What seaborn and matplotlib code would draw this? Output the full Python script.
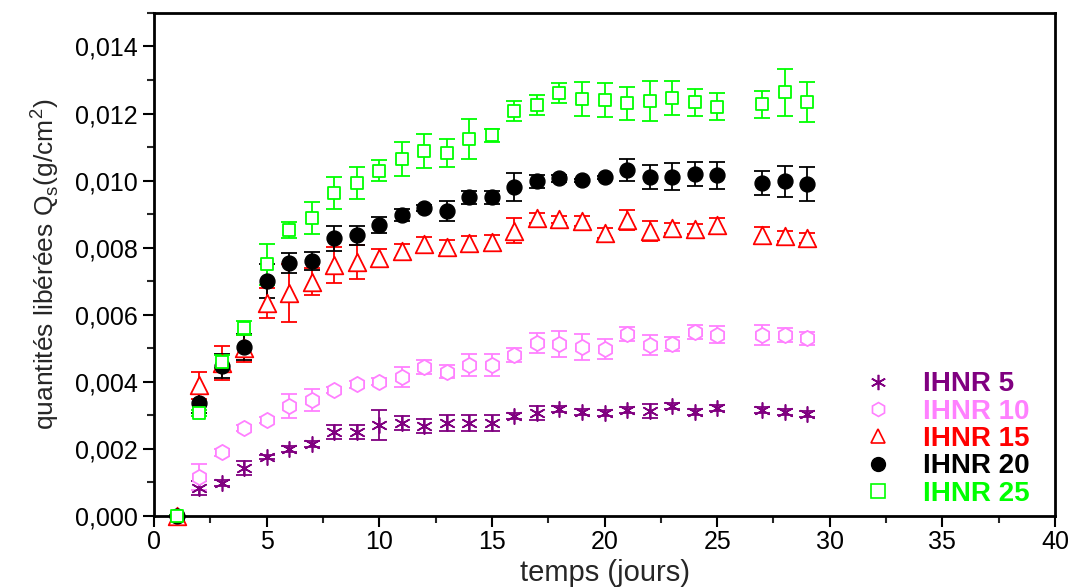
import numpy as np
import pandas as pd
import matplotlib
matplotlib.use("Agg")
import matplotlib.pyplot as plt
from matplotlib.lines import Line2D
from matplotlib.ticker import MultipleLocator, FuncFormatter
import seaborn as sns

days = [1, 2, 3, 4, 5, 6, 7, 8, 9, 10, 11, 12, 13, 14, 15, 16, 17, 18, 19, 20,
        21, 22, 23, 24, 25, 27, 28, 29]

ihnr5 = [0.0, 0.00083, 0.00098, 0.00143, 0.00176, 0.0020, 0.00215, 0.00251, 0.00251, 0.00271,
         0.00277, 0.00268, 0.00277, 0.00277, 0.00277, 0.00298, 0.00307, 0.00319, 0.0031, 0.00307,
         0.00316, 0.00313, 0.00328, 0.0031, 0.00322, 0.00316, 0.0031, 0.00304]
ihnr5_err = [0.00003, 0.0002, 0.0001, 0.0002, 0.00005, 0.0001, 0.0001, 0.0002, 0.0002, 0.00045,
             0.0002, 0.0002, 0.00025, 0.00025, 0.00025, 0.0001, 0.0002, 0.0001, 0.0001, 0.0001,
             0.0001, 0.0002, 0.0001, 0.0001, 0.0001, 0.0001, 0.0001, 0.0001]

ihnr10 = [0.0, 0.00116, 0.0019, 0.00262, 0.00286, 0.00328, 0.00346, 0.00376, 0.00393, 0.0040,
          0.00414, 0.00444, 0.0043, 0.0045, 0.0045, 0.0048, 0.00516, 0.00512, 0.00504, 0.00497,
          0.00542, 0.0051, 0.00513, 0.00548, 0.0054, 0.0054, 0.0054, 0.0053]
ihnr10_err = [0.00003, 0.0004, 0.0001, 0.0001, 0.0001, 0.00037, 0.00032, 0.0001, 0.0001, 0.0001,
              0.0003, 0.0002, 0.0002, 0.00033, 0.00033, 0.00022, 0.0003, 0.00039, 0.00039, 0.0003,
              0.0002, 0.0003, 0.0002, 0.0002, 0.00025, 0.0003, 0.0002, 0.0002]

ihnr15 = [0.0, 0.0039, 0.00456, 0.0050, 0.00635, 0.00665, 0.00698, 0.00748, 0.00757, 0.00769,
          0.0079, 0.0081, 0.00803, 0.00813, 0.00817, 0.0085, 0.00888, 0.00885, 0.00879, 0.00843,
          0.00882, 0.0085, 0.00858, 0.00855, 0.00867, 0.00837, 0.00834, 0.00828]
ihnr15_err = [0.00003, 0.0004, 0.0005, 0.0004, 0.00046, 0.00087, 0.0004, 0.00053, 0.0005, 0.00027,
              0.00022, 0.00022, 0.0002, 0.00022, 0.0002, 0.00037, 0.00015, 0.0001, 0.00015, 0.00015,
              0.0003, 0.0003, 0.00015, 0.00015, 0.00022, 0.00025, 0.00015, 0.00015]

ihnr20 = [0.0, 0.00337, 0.00447, 0.00504, 0.0070, 0.00754, 0.0076, 0.00828, 0.00837, 0.00867,
          0.00897, 0.00918, 0.00909, 0.0095, 0.0095, 0.0098, 0.00998, 0.01007, 0.01001, 0.0101,
          0.01031, 0.0101, 0.01011, 0.0102, 0.01016, 0.00993, 0.00998, 0.0099]
ihnr20_err = [0.00003, 0.0003, 0.00035, 0.0004, 0.0005, 0.0003, 0.00026, 0.00038, 0.00028, 0.00023,
              0.00017, 0.0001, 0.00029, 0.0002, 0.0002, 0.00042, 0.0002, 0.0001, 0.00005, 0.00005,
              0.00033, 0.00036, 0.0004, 0.00035, 0.0004, 0.00037, 0.00046, 0.00052]

ihnr25 = [0.0, 0.00307, 0.0046, 0.0056, 0.0075, 0.00852, 0.00888, 0.00963, 0.00992, 0.0103,
          0.01064, 0.01088, 0.01082, 0.01123, 0.01135, 0.01207, 0.01225, 0.0126, 0.01243, 0.0124,
          0.0123, 0.01237, 0.01246, 0.01234, 0.0122, 0.01228, 0.01264, 0.01234]
ihnr25_err = [0.00003, 0.0001, 0.0002, 0.0002, 0.0006, 0.00024, 0.00047, 0.00049, 0.00048, 0.0003,
              0.0005, 0.0005, 0.00042, 0.0006, 0.0002, 0.0003, 0.0003, 0.0003, 0.0005, 0.0005,
              0.0005, 0.0006, 0.0005, 0.0004, 0.0004, 0.0004, 0.0007, 0.0006]

labels = ["IHNR 5", "IHNR 10", "IHNR 15", "IHNR 20", "IHNR 25"]
colors = ["#800080", "#FF80FF", "#FF0000", "#000000", "#00FF00"]
values = [ihnr5, ihnr10, ihnr15, ihnr20, ihnr25]
errors = [ihnr5_err, ihnr10_err, ihnr15_err, ihnr20_err, ihnr25_err]
markers = [(6, 2, 0), "h", "^", "o", "s"]
sizes = [120, 120, 160, 115, 85]
filled = [True, False, False, True, False]

sns.set_theme(style="ticks")
plt.rcParams["font.family"] = ["Liberation Sans", "DejaVu Sans"]

fig = plt.figure(figsize=(10.75, 5.87), dpi=100)
ax = fig.add_axes([0.1433, 0.121, 0.9814 - 0.1433, 0.978 - 0.121])

handles = []
for lab, col, val, err, mk, sz, fl in zip(labels, colors, values, errors, markers, sizes, filled):
    df = pd.DataFrame({"temps": days, "Q": val, "err": err})
    ax.errorbar(df["temps"], df["Q"], yerr=df["err"], fmt="none", ecolor=col,
                elinewidth=1.3, capsize=6, capthick=1.3, zorder=2, clip_on=False)
    if mk == (6, 2, 0):
        sns.scatterplot(data=df, x="temps", y="Q", marker=mk, s=sz, color=col,
                        edgecolor=col, linewidth=1.2, ax=ax, zorder=3, clip_on=False, legend=False)
    elif fl:
        sns.scatterplot(data=df, x="temps", y="Q", marker=mk, s=sz, color=col,
                        edgecolor=col, linewidth=1.0, ax=ax, zorder=3, clip_on=False, legend=False)
    else:
        sns.scatterplot(data=df, x="temps", y="Q", marker=mk, s=sz, color=col,
                        facecolor="white", edgecolor=col, linewidth=1.3, ax=ax, zorder=3,
                        clip_on=False, legend=False)
    if mk == (6, 2, 0):
        h = Line2D([], [], marker=mk, color=col, linestyle="none", markersize=11,
                   markeredgewidth=1.2)
    elif fl:
        h = Line2D([], [], marker=mk, color=col, linestyle="none", markersize=10)
    else:
        h = Line2D([], [], marker=mk, color=col, markerfacecolor="none", linestyle="none",
                   markersize=10, markeredgewidth=1.2)
    handles.append(h)

ax.set_xlim(0, 40)
ax.set_ylim(0, 0.015)
ax.xaxis.set_major_locator(MultipleLocator(5))
ax.xaxis.set_minor_locator(MultipleLocator(2.5))
ax.yaxis.set_major_locator(MultipleLocator(0.002))
ax.yaxis.set_minor_locator(MultipleLocator(0.001))
ax.yaxis.set_major_formatter(FuncFormatter(lambda v, p: f"{v:.3f}".replace(".", ",")))
ax.xaxis.set_major_formatter(FuncFormatter(lambda v, p: f"{v:.0f}"))

ax.tick_params(axis="both", which="major", direction="out", length=8, width=1.5,
               labelsize=18, colors="black", top=False, right=False)
ax.tick_params(axis="both", which="minor", direction="out", length=5, width=1.5,
               top=False, right=False)
ax.tick_params(axis="x", pad=2)
ax.tick_params(axis="y", pad=4)
for s in ax.spines.values():
    s.set_visible(True)
    s.set_linewidth(2)
    s.set_color("black")
ax.grid(False)
ax.set_facecolor("white")

ax.set_xlabel("temps (jours)", fontsize=21, labelpad=4)
ax.set_ylabel(r"quantités libérées Q$_\mathregular{s}$(g/cm$^\mathregular{2}$)",
              fontsize=19, labelpad=10)

leg = ax.legend(handles, labels, loc="lower right", bbox_to_anchor=(0.99, -0.015),
                frameon=False, fontsize=20, labelspacing=0.05, handletextpad=1.0,
                handlelength=1.2, borderaxespad=0.2)
for t, col in zip(leg.get_texts(), colors):
    t.set_color(col)
    t.set_fontweight("bold")

fig.savefig("out.png", dpi=100, facecolor="white")
